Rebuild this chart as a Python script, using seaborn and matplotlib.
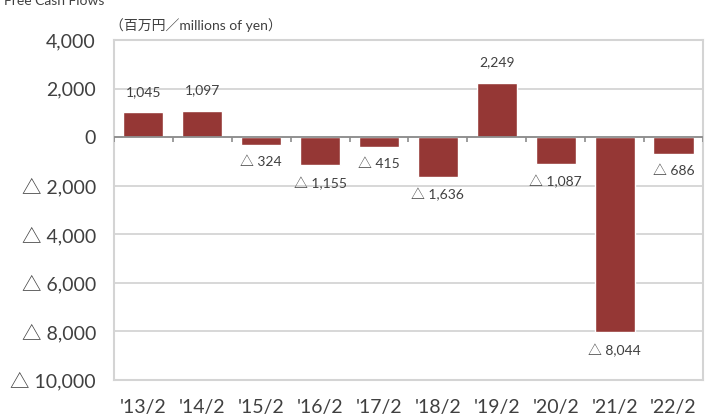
import numpy as np
import pandas as pd
import seaborn as sns
import matplotlib.pyplot as plt

# dados (百万円)
periods = ["'13/2", "'14/2", "'15/2", "'16/2", "'17/2", "'18/2", "'19/2", "'20/2", "'21/2", "'22/2"]
free_cash_flow = [1045, 1097, -324, -1155, -415, -1636, 2249, -1087, -8044, -686]
y_ticks = [4000, 2000, 0, -2000, -4000, -6000, -8000, -10000]

BAR_COLOR = "#953735"
TEXT_COLOR = "#404040"
GRID_COLOR = "#d4d4d4"
FONTS = ["Lato", "Noto Sans CJK JP", "DejaVu Sans"]

sns.set_theme(style="white")
plt.rcParams["font.family"] = FONTS


def fmt(v):
    if v < 0:
        return f"\u25b3 {abs(v):,}"
    return f"{v:,}"


df = pd.DataFrame({"period": periods, "fcf": free_cash_flow})

fig = plt.figure(figsize=(7.11, 4.19), dpi=100)
ax = fig.add_axes([0.1603, 0.0931, 0.8284, 0.8114])

sns.barplot(data=df, x="period", y="fcf", color=BAR_COLOR, width=0.68,
            saturation=1, ax=ax, zorder=3)

ax.set_ylim(-10000, 4000)
ax.set_xlim(-0.5, len(periods) - 0.5)
ax.set_yticks(y_ticks)
ax.set_yticklabels([fmt(v) for v in y_ticks])
ax.yaxis.grid(True, color=GRID_COLOR, linewidth=1.3, zorder=0)
ax.set_axisbelow(True)

# linha do zero com marcas entre categorias
ax.axhline(0, color="#8c8c8c", linewidth=1.3, zorder=4)
ax.vlines(np.arange(-0.5, len(periods)), 0, -220, color="#8c8c8c", linewidth=1.2, zorder=4)

for sp in ax.spines.values():
    sp.set_color(GRID_COLOR)
    sp.set_linewidth(1.5)

ax.tick_params(axis="y", length=5, width=1.3, color=GRID_COLOR, pad=8,
               labelsize=14, labelcolor=TEXT_COLOR)
ax.tick_params(axis="x", length=0, pad=14, labelsize=14, labelcolor=TEXT_COLOR)
ax.set_xlabel("")
ax.set_ylabel("")

# rótulos das barras
for i, v in enumerate(free_cash_flow):
    if v >= 0:
        ax.annotate(fmt(v), (i, v), xytext=(0, 10), textcoords="offset points",
                    ha="center", va="bottom", fontsize=10, color=TEXT_COLOR)
    else:
        ax.annotate(fmt(v), (i, v), xytext=(0, -8), textcoords="offset points",
                    ha="center", va="top", fontsize=10, color=TEXT_COLOR)

fig.text(0.005, 1 - 5 / 419, "Free Cash Flows", fontsize=10, color=TEXT_COLOR,
         va="baseline", ha="left")
fig.text(0.155, 1 - 25 / 419, "（百万円／millions of yen）", fontsize=10,
         color=TEXT_COLOR, va="center", ha="left")

fig.savefig("out.png", dpi=100)
